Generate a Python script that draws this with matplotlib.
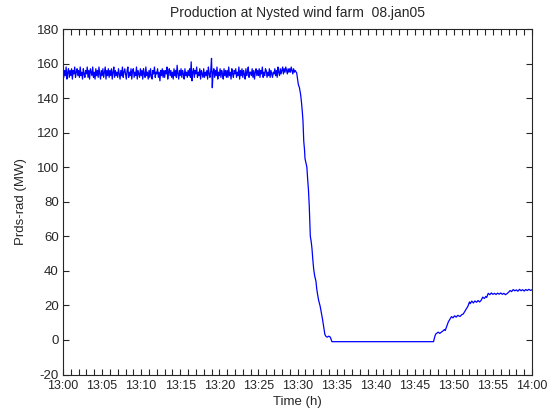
import numpy as np
import matplotlib
matplotlib.use("Agg")
import matplotlib.pyplot as plt
from matplotlib.ticker import MultipleLocator

plt.rcParams['font.family'] = ['Liberation Sans', 'DejaVu Sans']
plt.rcParams['axes.unicode_minus'] = False

# Plateau: one sample every 6 s (0.1 min) from 13:00, values in MW
plateau_values = [
    157,152,156,153,158,151,155,157,152,156,
    153,157,151,156,154,158,152,155,157,153,
    156,152,158,153,155,151,157,154,152,156,
    154,158,152,156,151,157,155,153,158,152,
    155,151,157,153,156,152,158,154,151,156,
    153,157,152,155,158,151,156,153,157,152,
    156,153,157,151,155,158,152,156,153,155,
    152,157,154,151,156,153,158,152,155,157,
    154,151,156,158,152,155,153,157,151,156,
    157,152,155,153,158,151,156,154,152,157,
    153,156,151,157,154,152,158,153,155,151,
    156,152,157,153,151,156,154,158,152,155,
    154,157,152,155,150,156,153,157,152,156,
    152,156,154,158,151,155,157,153,156,152,
    155,151,157,153,156,152,159,154,151,156,
    153,157,152,156,154,151,157,153,155,152,
    156,153,157,152,161,150,155,157,152,156,
    154,158,152,155,153,157,151,156,154,152,
    157,152,155,153,156,151,158,154,152,156,
    163,146,155,157,152,156,153,158,151,155,
    153,157,152,156,154,151,157,153,156,152,
    156,152,158,153,155,151,157,154,152,156,
    154,157,152,155,153,158,151,156,153,157,
    152,156,154,151,157,153,155,158,152,155,
    155,153,157,152,156,151,155,157,153,156,
    153,157,152,156,154,158,152,155,153,157,
    156,152,155,153,157,152,156,154,152,155,
    154,157,153,156,152,158,155,153,157,154,
    156,158,154,157,155,158,156,154,157,155,
    157,155,158,156,154,157,155,156,
]
plateau_minutes = np.arange(len(plateau_values)) * 0.1

# Shutdown, stopped period and restart: (minutes after 13:00, MW)
later_minutes = [
    29.9, 30.0, 30.1, 30.25, 30.4, 30.5, 30.6, 30.7, 30.8, 30.9, 30.96, 31.1, 31.2,
    31.3, 31.4, 31.5, 31.64, 31.75, 31.85, 31.95, 32.07, 32.2, 32.36, 32.45, 32.58,
    32.7, 32.9, 33.0, 33.1, 33.2, 33.3, 33.4, 33.5, 33.65, 33.8, 34.0, 34.2, 34.4,
    47.4, 47.6, 47.7, 48.0, 48.2, 48.4, 48.6, 48.8, 48.9, 49.1, 49.3, 49.5, 49.7,
    49.9, 50.1, 50.3, 50.5, 50.8, 51.0, 51.2, 51.4, 51.6, 51.8, 52.0, 52.1, 52.3,
    52.5, 52.7, 52.9, 53.1, 53.3, 53.5, 53.7, 53.9, 54.1, 54.2, 54.4, 54.6, 54.8,
    55.0, 55.2, 55.4, 55.6, 55.8, 56.0, 56.2, 56.4, 56.6, 56.8, 57.0, 57.2, 57.4,
    57.6, 57.8, 58.0, 58.2, 58.4, 58.6, 58.8, 59.0, 59.2, 59.4, 59.6, 59.8, 60.0,
]
later_values = [
    154.5, 151, 148, 146, 142, 138, 133, 127, 115, 110, 105, 102, 100,
    93, 87, 78, 60, 57, 53, 47, 41, 37, 34, 30, 26,
    23, 19.5, 17, 14.7, 12, 9, 6, 3.2, 2.0, 1.6, 2.2, 1.6, -1,
    -1, 2.5, 3.5, 4.5, 3.8, 4.5, 5.2, 6.0, 5.5, 8.0, 10.5, 12.0, 13.5,
    12.8, 14.0, 13.2, 14.2, 13.6, 14.6, 15.0, 16.5, 18.0, 19.5, 22.0, 21.0, 22.5,
    21.4, 22.6, 21.8, 22.8, 22.0, 23.0, 24.8, 24.0, 25.2, 24.6, 27.0, 26.2, 27.2,
    26.4, 27.0, 26.3, 27.1, 26.5, 27.2, 26.4, 27.0, 26.2, 26.8, 27.6, 28.6, 28.0,
    29.2, 28.4, 29.0, 28.2, 29.3, 28.5, 29.1, 28.3, 29.2, 28.6, 29.3, 28.7, 29.0,
]

x_tick_labels = ["13:00", "13:05", "13:10", "13:15", "13:20", "13:25", "13:30",
                 "13:35", "13:40", "13:45", "13:50", "13:55", "14:00"]
y_ticks = [-20, 0, 20, 40, 60, 80, 100, 120, 140, 160, 180]

minutes = np.concatenate([plateau_minutes, later_minutes])
values = np.concatenate([plateau_values, later_values])

fig = plt.figure(figsize=(5.47, 4.11), dpi=100)
ax = fig.add_axes([63/547, 1 - 374.5/411, (532-63)/547, (374.5-29)/411])
ax.plot(minutes, values, color=(0, 0, 1), linewidth=0.9)

ax.set_xlim(0, 60)
ax.set_ylim(-20, 180)
ax.set_xticks(np.arange(0, 61, 5))
ax.set_xticklabels(x_tick_labels)
ax.xaxis.set_minor_locator(MultipleLocator(1))
ax.set_yticks(y_ticks)

ax.tick_params(axis='both', which='both', direction='in', top=True, right=True,
               colors='#262626', width=0.8)
ax.tick_params(axis='x', which='major', labelsize=9, pad=4)
ax.tick_params(axis='y', which='major', labelsize=9.5, pad=3)
ax.tick_params(axis='both', which='major', length=4)
ax.tick_params(axis='x', which='minor', length=4)
for s in ax.spines.values():
    s.set_color('#262626')
    s.set_linewidth(0.8)

ax.set_title("Production at Nysted wind farm  08.jan05", fontsize=10, color='#262626', pad=9)
ax.set_xlabel("Time (h)", fontsize=9.5, color='#262626', labelpad=3)
ax.set_ylabel("Prds-rad (MW)", fontsize=9.5, color='#262626', labelpad=7)

fig.savefig("out.png", dpi=100)
